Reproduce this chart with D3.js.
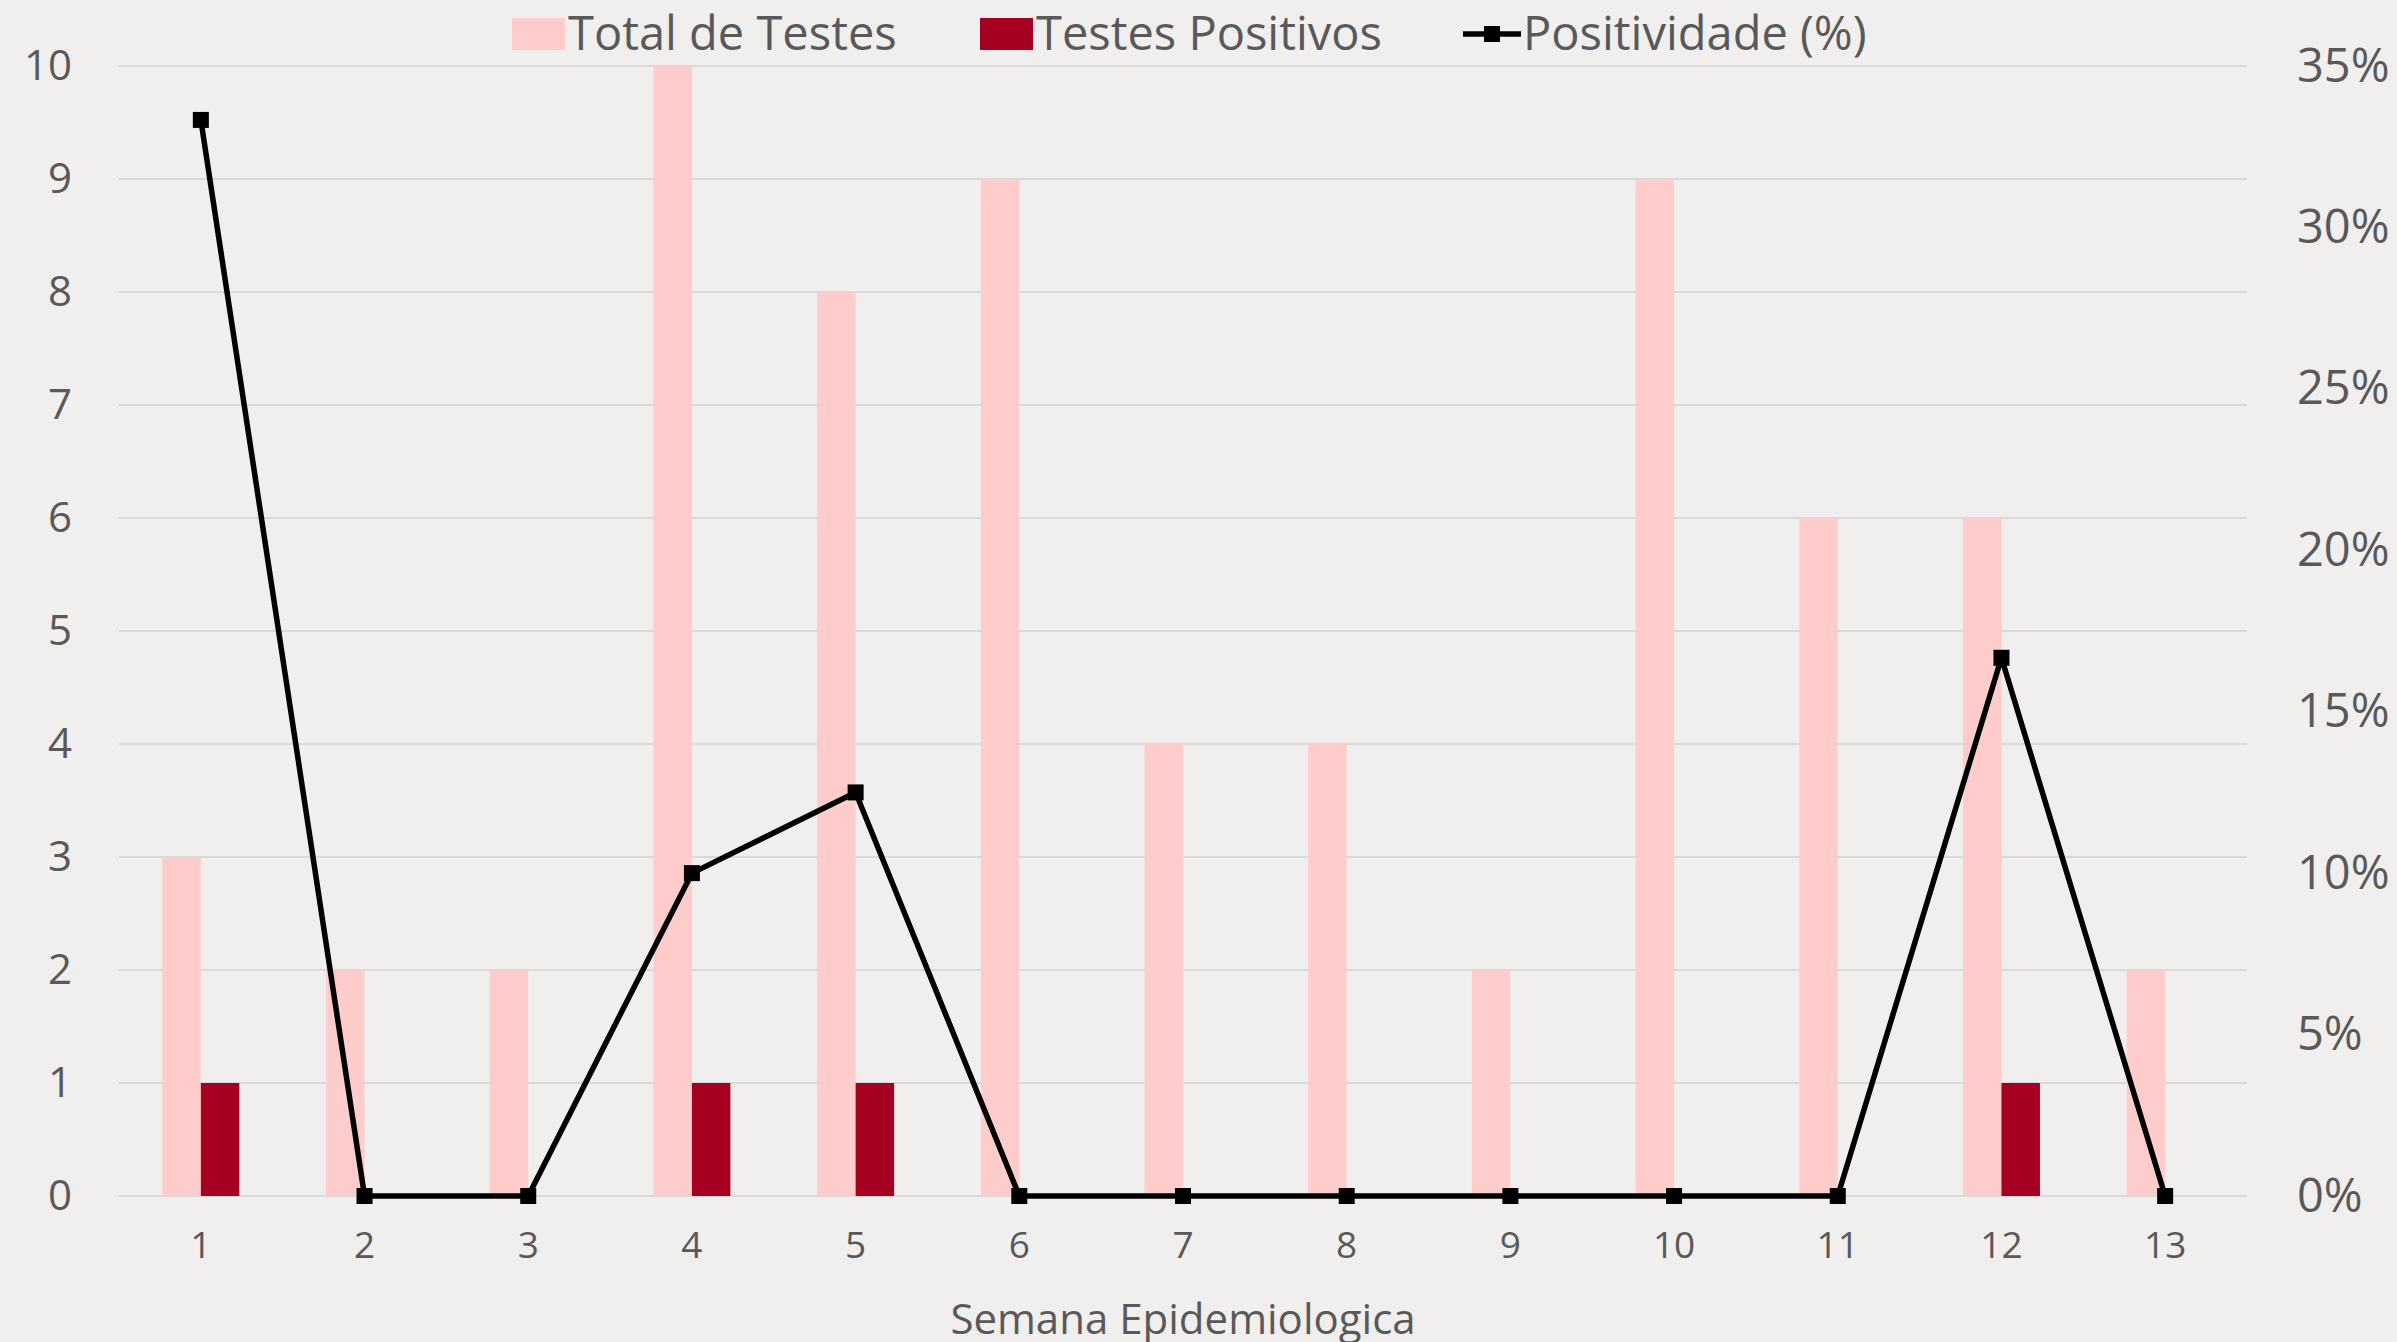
<!DOCTYPE html>
<html>
<head>
<meta charset="utf-8">
<script src="https://cdn.jsdelivr.net/npm/d3@7"></script>
<style>
  html, body { margin: 0; padding: 0; background: #f0efed; }
  svg { display: block; font-family: 'Open Sans', sans-serif; }
  .tick text { fill: #595959; }
</style>
</head>
<body>
<div id="d3-container"></div>
<script>
// CONST and GLOBALS
const width = 2397,
  height = 1342,
  margin = { top: 66, bottom: 146, left: 119, right: 150 };

// data
const semanas = ['1', '2', '3', '4', '5', '6', '7', '8', '9', '10', '11', '12', '13'];
const totalTestes = [3, 2, 2, 10, 8, 9, 4, 4, 2, 9, 6, 6, 2];
const testesPositivos = [1, 0, 0, 1, 1, 0, 0, 0, 0, 0, 0, 1, 0];
const positividade = [0.3333, 0, 0, 0.1, 0.125, 0, 0, 0, 0, 0, 0, 0.1667, 0];
const leftTicks = [0, 1, 2, 3, 4, 5, 6, 7, 8, 9, 10];
const rightTicks = [0, 0.05, 0.1, 0.15, 0.2, 0.25, 0.3, 0.35];

const colors = { total: '#ffcccc', pos: '#a50021', line: '#000000', grid: '#d9d9d9', text: '#595959' };

let svg = d3.select('#d3-container')
  .append('svg')
  .attr('width', width)
  .attr('height', height);

svg.append('rect').attr('width', width).attr('height', height).attr('fill', '#f0efed');

// SCALES
let xScale = d3.scaleBand()
  .domain(semanas)
  .range([margin.left, width - margin.right])
  .padding(0);

let yScale = d3.scaleLinear()
  .domain([0, 10])
  .range([height - margin.bottom, margin.top]);

let y2Scale = d3.scaleLinear()
  .domain([0, 0.35])
  .range([height - margin.bottom, margin.top]);

const barW = xScale.bandwidth() * 0.235;
const center = d => xScale(d) + xScale.bandwidth() / 2;

// gridlines
svg.append('g')
  .attr('class', 'grid')
  .selectAll('line')
  .data(leftTicks)
  .join('line')
  .attr('x1', margin.left)
  .attr('x2', width - margin.right)
  .attr('y1', d => yScale(d))
  .attr('y2', d => yScale(d))
  .attr('stroke', colors.grid)
  .attr('stroke-width', 2);

// AXES
let yAxis = d3.axisLeft(yScale).tickValues(leftTicks).tickSize(0).tickPadding(47);
svg.append('g')
  .attr('class', 'axis y-axis')
  .attr('transform', `translate(${margin.left},0)`)
  .call(yAxis)
  .call(g => g.select('.domain').remove())
  .selectAll('text')
  .attr('font-size', 42)
  .attr('font-family', 'Open Sans');

let y2Axis = d3.axisRight(y2Scale).tickValues(rightTicks).tickSize(0).tickPadding(50)
  .tickFormat(d3.format('.0%'));
svg.append('g')
  .attr('class', 'axis y2-axis')
  .attr('transform', `translate(${width - margin.right},0)`)
  .call(y2Axis)
  .call(g => g.select('.domain').remove())
  .selectAll('text')
  .attr('font-size', 47)
  .attr('font-family', 'Open Sans');

let xAxis = d3.axisBottom(xScale).tickSize(0).tickPadding(36);
svg.append('g')
  .attr('class', 'axis x-axis')
  .attr('transform', `translate(0,${height - margin.bottom})`)
  .call(xAxis)
  .call(g => g.select('.domain').remove())
  .selectAll('text')
  .attr('font-size', 37)
  .attr('font-family', 'Open Sans');

svg.append('text')
  .attr('class', 'axis-label')
  .attr('x', (margin.left + width - margin.right) / 2)
  .attr('y', 1334)
  .attr('text-anchor', 'middle')
  .attr('font-size', 42)
  .attr('fill', colors.text)
  .text('Semana Epidemiologica');

// BARS
svg.append('g')
  .selectAll('rect')
  .data(semanas.map((s, i) => ({ s, v: totalTestes[i] })))
  .join('rect')
  .attr('x', d => center(d.s) - barW)
  .attr('y', d => yScale(d.v))
  .attr('width', barW)
  .attr('height', d => yScale(0) - yScale(d.v))
  .attr('fill', colors.total);

svg.append('g')
  .selectAll('rect')
  .data(semanas.map((s, i) => ({ s, v: testesPositivos[i] })))
  .join('rect')
  .attr('x', d => center(d.s))
  .attr('y', d => yScale(d.v))
  .attr('width', barW)
  .attr('height', d => yScale(0) - yScale(d.v))
  .attr('fill', colors.pos);

// LINE
const lineData = semanas.map((s, i) => ({ s, v: positividade[i] }));
let line = d3.line()
  .x(d => center(d.s))
  .y(d => y2Scale(d.v));

svg.append('path')
  .datum(lineData)
  .attr('d', line)
  .attr('fill', 'none')
  .attr('stroke', colors.line)
  .attr('stroke-width', 5.5)
  .attr('stroke-linejoin', 'round');

svg.append('g')
  .selectAll('rect')
  .data(lineData)
  .join('rect')
  .attr('x', d => center(d.s) - 8)
  .attr('y', d => y2Scale(d.v) - 8)
  .attr('width', 16)
  .attr('height', 16)
  .attr('fill', colors.line);

// LEGEND
const legend = svg.append('g').attr('class', 'legend');
const legendItems = [
  { label: 'Total de Testes', color: colors.total, type: 'box', x: 512 },
  { label: 'Testes Positivos', color: colors.pos, type: 'box', x: 980 },
  { label: 'Positividade (%)', color: colors.line, type: 'line', x: 1463 }
];
legendItems.forEach(item => {
  if (item.type === 'box') {
    legend.append('rect')
      .attr('x', item.x).attr('y', 18)
      .attr('width', 53).attr('height', 32)
      .attr('fill', item.color);
  } else {
    legend.append('line')
      .attr('x1', item.x).attr('x2', item.x + 58)
      .attr('y1', 34).attr('y2', 34)
      .attr('stroke', item.color).attr('stroke-width', 5.5);
    legend.append('rect')
      .attr('x', item.x + 29 - 8).attr('y', 34 - 8)
      .attr('width', 16).attr('height', 16)
      .attr('fill', item.color);
  }
  legend.append('text')
    .attr('x', item.x + (item.type === 'box' ? 56 : 60))
    .attr('y', 50)
    .attr('font-size', 47)
    .attr('fill', colors.text)
    .text(item.label);
});
</script>
</body>
</html>
